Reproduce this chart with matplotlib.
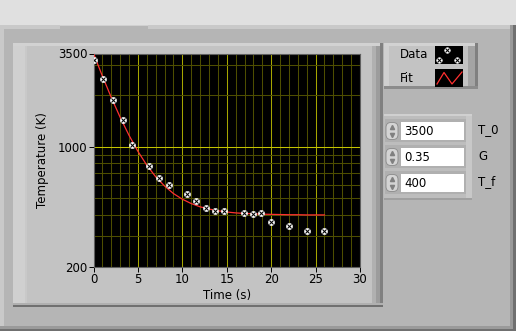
import matplotlib
matplotlib.use('Agg')
import matplotlib.pyplot as plt
from matplotlib.patches import Rectangle, FancyBboxPatch
from matplotlib.ticker import NullLocator

plt.rcParams.update({'font.family': 'DejaVu Sans', 'font.size': 8.5})

# measured data (time in s, temperature in K)
t_data = [0.1, 1.1, 2.2, 3.3, 4.3, 6.3, 7.4, 8.5, 10.5, 11.5, 12.7, 13.7, 14.7,
          16.9, 17.9, 18.9, 20.0, 22.0, 24.0, 26.0]
T_data = [3200, 2470, 1880, 1440, 1030, 775, 660, 600, 530, 483, 440, 423, 423,
          411, 406, 411, 365, 345, 323, 323]

# fitted curve
t_fit = [0, 1, 2, 3, 4, 5, 6, 7, 8, 9, 10, 11, 12, 13, 14, 15, 16, 17, 18, 19,
         20, 21, 22, 23, 24, 25, 26]
T_fit = [3500, 2585, 1940, 1485, 1165, 940, 780, 668, 590, 533, 494, 466, 446,
         433, 423, 416, 411, 408, 406, 404, 403, 402, 401, 401, 400, 400, 400]

x_ticks = [0, 5, 10, 15, 20, 25, 30]
y_ticks = [200, 1000, 3500]
y_grid_minor = [300, 400, 500, 600, 700, 800, 900, 2000, 3000]

params = [('3500', 'T_0'), ('0.35', 'G'), ('400', 'T_f')]

W, H = 516, 331
fig = plt.figure(figsize=(W / 100, H / 100), dpi=100)
fig.patch.set_facecolor('#b5b5b5')

# background in pixel coordinates
bg = fig.add_axes([0, 0, 1, 1])
bg.set_xlim(0, W)
bg.set_ylim(H, 0)
bg.axis('off')

def box(x0, y0, x1, y1, color, z=1):
    bg.add_patch(Rectangle((x0, y0), x1 - x0, y1 - y0, facecolor=color,
                           edgecolor='none', zorder=z))

def marker(a, xs, ys, size):
    a.plot(xs, ys, 'o', ms=size, mfc='white', mec='white', mew=0.4, zorder=5)
    a.plot(xs, ys, 'x', ms=size * 0.62, mew=0.75, color='black', zorder=6)

# top strip and outer panel
box(0, 0, W, 25, '#e0e0e0')
box(0, 25, W, 29, '#c9c9c9')
box(60, 25, 148, 29, '#b5b5b5', 2)
box(60, 25, 148, 26, '#d0d0d0', 2)
box(0, 29, 4, 329, '#c9c9c9')
box(510, 25, 513, 329, '#9a9a9a')
box(513, 25, W, H, '#707070')
box(0, 326, 513, 329, '#9a9a9a')
box(0, 329, W, H, '#707070')

# graph frame
box(13, 43, 383, 307, '#c3c3c3', 2)
box(13, 43, 383, 46, '#d2d2d2', 3)
box(13, 46, 25, 303, '#d0d0d0', 3)
box(25, 46, 27, 303, '#c9c9c9', 3)
box(372, 46, 376, 303, '#b0b0b0', 3)
box(376, 46, 380, 303, '#9c9c9c', 3)
box(380, 43, 383, 307, '#808080', 3)
box(13, 303, 383, 305, '#b0b0b0', 3)
box(13, 305, 383, 307, '#707070', 3)

# legend frame
box(384, 43, 478, 89, '#c3c3c3', 2)
box(384, 43, 478, 46, '#d2d2d2', 3)
box(384, 46, 389, 86, '#d0d0d0', 3)
box(468, 46, 475, 86, '#a4a4a4', 3)
box(475, 43, 478, 89, '#808080', 3)
box(384, 86, 478, 89, '#8c8c8c', 3)
bg.text(400, 55, 'Data', ha='left', va='center', zorder=5)
bg.text(400, 78, 'Fit', ha='left', va='center', zorder=5)
box(435, 46, 463, 64, 'black', 4)
box(435, 69, 463, 87, 'black', 4)
marker(bg, [447, 438.5, 457], [49.5, 59.5, 59.5], 4.0)
bg.plot([437, 444, 452, 462], [84, 72.5, 84, 72], color='#ff3030', lw=0.9, zorder=5)

# control panel
box(384, 114, 472, 200, '#bdbdbd', 2)
box(384, 114, 472, 116, '#d0d0d0', 3)
box(384, 198, 472, 200, '#a0a0a0', 3)
box(466, 116, 472, 198, '#c8c8c8', 3)
for i, (val, name) in enumerate(params):
    y0 = 122 + i * 26
    box(385, y0 - 3, 466, y0 + 20, '#b0b0b0', 3)
    box(401, y0, 464, y0 + 18, 'white', 4)
    bg.add_patch(FancyBboxPatch((386, y0 + 0.5), 12, 17, boxstyle='round,pad=0,rounding_size=5',
                                facecolor='#d4d4d4', edgecolor='#8a8a8a', lw=0.6, zorder=4))
    bg.plot([392], [y0 + 5], marker='^', ms=3, color='#808080', zorder=5)
    bg.plot([392], [y0 + 13], marker='v', ms=3, color='#808080', zorder=5)
    bg.text(404, y0 + 9.5, val, ha='left', va='center', zorder=5)
    bg.text(478, y0 + 8, name, ha='left', va='center', zorder=5)

# main plot
x0, x1, y0, y1 = 93.5, 360, 53.5, 266.5
ax = fig.add_axes([x0 / W, 1 - y1 / H, (x1 - x0) / W, (y1 - y0) / H])
ax.set_facecolor('black')
ax.set_xlim(0, 30)
ax.set_yscale('log')
ax.set_ylim(200, 3500)
ax.set_xticks(x_ticks)
ax.set_yticks(y_ticks)
ax.set_yticklabels([str(v) for v in y_ticks])
ax.yaxis.set_minor_locator(NullLocator())
ax.xaxis.set_minor_locator(NullLocator())
ax.tick_params(direction='out', length=3.5, width=0.7, pad=1, color='black', labelsize=8.5)
for s in ax.spines.values():
    s.set_color('#606060')
    s.set_linewidth(0.8)

for t in range(1, 30):
    major = t % 5 == 0
    ax.axvline(t, color='#a6a600' if major else '#4e4e00', lw=0.75, zorder=1)
for v in y_grid_minor:
    ax.axhline(v, color='#4e4e00', lw=0.75, zorder=1)
ax.axhline(1000, color='#c4c400', lw=0.75, zorder=1)

ax.plot(t_fit, T_fit, color='#ff3030', lw=0.9, zorder=3)
marker(ax, t_data, T_data, 4.4)

ax.set_xlabel('Time (s)', labelpad=2)
ax.set_ylabel('Temperature (K)', labelpad=6)

fig.savefig('out.png', dpi=100, facecolor=fig.get_facecolor())
